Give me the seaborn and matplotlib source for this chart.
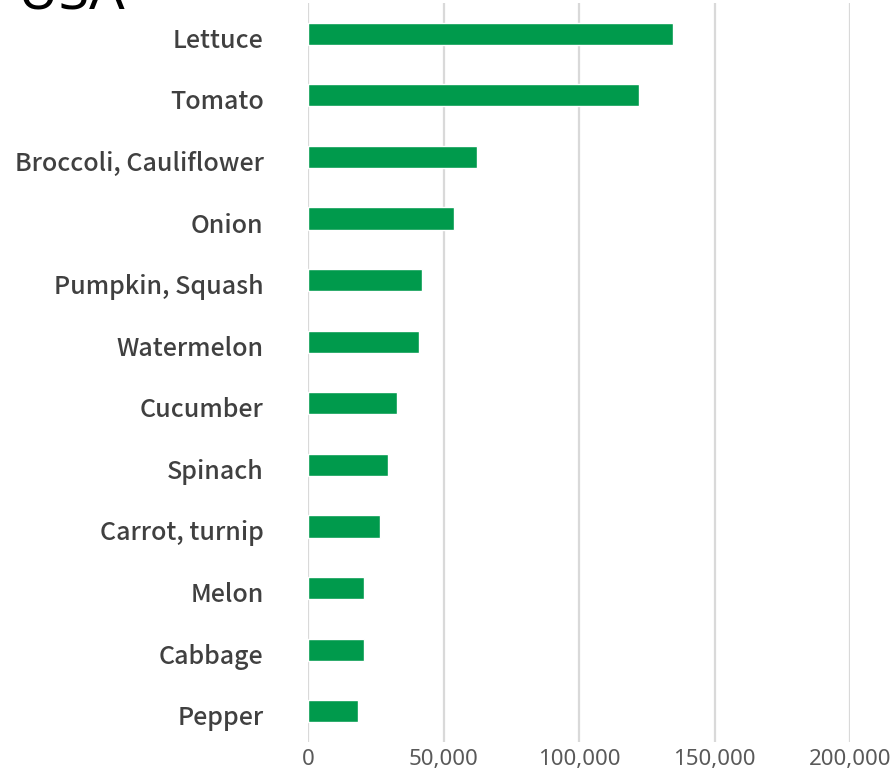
import matplotlib
matplotlib.use("Agg")
import matplotlib.pyplot as plt
import seaborn as sns
import pandas as pd
from matplotlib.ticker import FuncFormatter
from matplotlib.transforms import ScaledTranslation

categories = ["Lettuce", "Tomato", "Broccoli, Cauliflower", "Onion", "Pumpkin, Squash",
              "Watermelon", "Cucumber", "Spinach", "Carrot, turnip", "Melon", "Cabbage", "Pepper"]
values = [134600, 122300, 62500, 54000, 42100, 40800, 33000, 29400, 26500, 20700, 20700, 18300]
xticks = [0, 50000, 100000, 150000, 200000]
title = "USA"

sns.set_theme(style="white")
plt.rcParams['font.family'] = ['Noto Sans', 'DejaVu Sans']

df = pd.DataFrame({"category": categories, "value": values})

fig = plt.figure(figsize=(8.95, 7.74), dpi=100)
ax = fig.add_axes([308/895, 32/774, (850-308)/895, 739/774])
sns.barplot(data=df, x="value", y="category", orient="h", color="#009a4c",
            width=0.36, saturation=1, ax=ax)
ax.set_xlim(0, 200000)
ax.set_ylim(len(categories) - 0.5, -0.5)
ax.set_xticks(xticks)
ax.xaxis.set_major_formatter(FuncFormatter(lambda v, p: f"{int(v):,}"))
ax.grid(axis="x", color="#d9d9d9", linewidth=1.6)
ax.set_axisbelow(True)
for s in ax.spines.values():
    s.set_visible(False)
ax.set_xlabel("")
ax.set_ylabel("")
ax.tick_params(axis="x", length=0, labelsize=16, labelcolor="#595959", pad=5)
ax.tick_params(axis="y", length=0, pad=32)
ax.set_yticks(range(len(categories)))
ax.set_yticklabels(categories, fontsize=18, fontweight="medium", color="#404040",
                   family=["Noto Sans CJK JP", "DejaVu Sans"])
offset = ScaledTranslation(0, -4/100, fig.dpi_scale_trans)
for lbl in ax.get_yticklabels():
    lbl.set_transform(lbl.get_transform() + offset)

fig.text(18/895, 1 - 10/774, title, fontsize=40, color="black", ha="left", va="baseline")

fig.savefig("out.png", dpi=100)
